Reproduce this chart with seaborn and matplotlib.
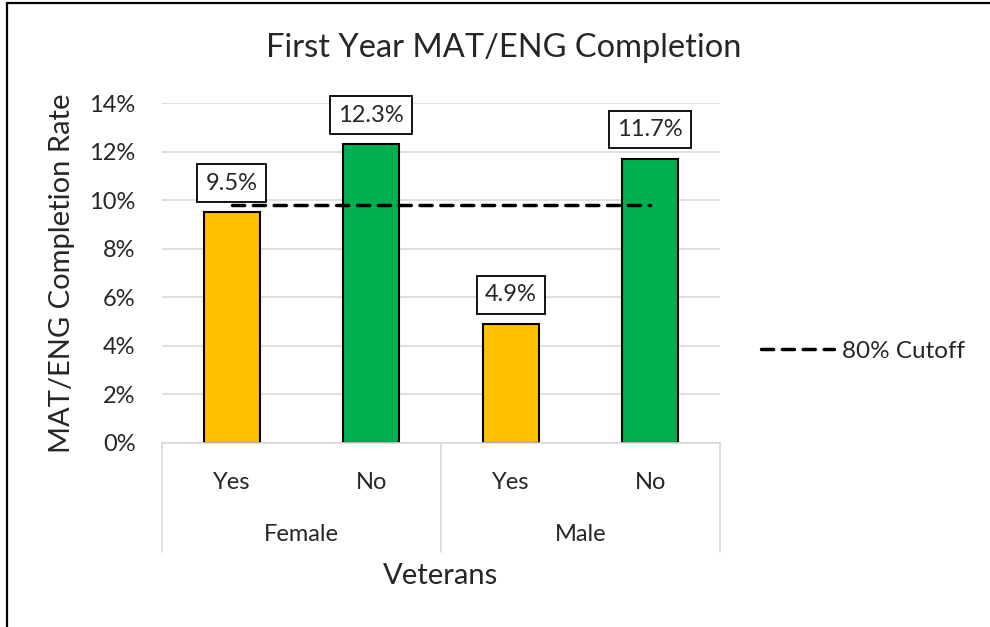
import seaborn as sns
import matplotlib.pyplot as plt
from matplotlib.lines import Line2D
from matplotlib.ticker import PercentFormatter
import pandas as pd

# Chart data
genders = ["Female", "Female", "Male", "Male"]
veteran = ["Yes", "No", "Yes", "No"]
rates = [0.095, 0.123, 0.049, 0.117]
cutoff = 0.098
group_names = ["Female", "Male"]

df = pd.DataFrame({"gender": genders, "veteran": veteran, "rate": rates})
df["key"] = df["gender"] + "-" + df["veteran"]

sns.set_style("white")
plt.rcParams["font.family"] = ["Lato", "DejaVu Sans"]

fig = plt.figure(figsize=(9.9, 6.27), dpi=100)
ax = fig.add_axes([0.1636, 0.2935, 0.5637, 0.5422])

sns.barplot(
    data=df, x="key", y="rate", hue="veteran",
    palette={"Yes": "#FFC000", "No": "#00B050"}, saturation=1,
    dodge=False, width=0.4, edgecolor="black", linewidth=1.5,
    legend=False, ax=ax,
)

dash = (0, (3.5, 2.5))
# cutoff line between first and last bar centers
ax.plot([0, len(rates) - 1], [cutoff, cutoff], color="black", lw=2.5,
        linestyle=dash, dash_capstyle="round", zorder=4)

ax.set_xlim(-0.5, len(rates) - 0.5)
ax.set_ylim(0, 0.14)
ax.set_yticks([i / 100 for i in range(0, 15, 2)])
ax.yaxis.set_major_formatter(PercentFormatter(1.0, decimals=0))
ax.yaxis.grid(True, color="#d9d9d9", lw=1.2)
ax.set_axisbelow(True)
for s in ["top", "right", "left"]:
    ax.spines[s].set_visible(False)
ax.spines["bottom"].set_color("#d9d9d9")
ax.spines["bottom"].set_linewidth(1.2)
ax.tick_params(axis="y", length=0, labelsize=17, pad=19)
ax.set_xticks(range(len(rates)))
ax.set_xticklabels(veteran)
ax.tick_params(axis="x", length=0, labelsize=17, pad=21)
ax.set_xlabel("")
ax.set_ylabel("MAT/ENG Completion Rate", fontsize=21, labelpad=10)

# data labels in boxes
for i, v in enumerate(rates):
    ax.annotate(f"{v*100:.1f}%", (i, v), xytext=(0, 21), textcoords="offset points",
                ha="center", va="center", fontsize=17,
                bbox=dict(boxstyle="square,pad=0.35", fc="white", ec="black", lw=1.3),
                zorder=5)

# multi-level category axis
trans = ax.get_xaxis_transform()
for xs in [-0.5, 1.5, 3.5]:
    ax.plot([xs, xs], [0, -0.32], transform=trans, color="#d9d9d9", lw=1.2, clip_on=False)
for j, g in enumerate(group_names):
    ax.text(2 * j + 0.5, -0.268, g, transform=trans, ha="center", va="center", fontsize=17)
ax.text(1.5, -0.39, "Veterans", transform=trans, ha="center", va="center", fontsize=21)

fig.text(0.5086, 0.923, "First Year MAT/ENG Completion", ha="center", va="center", fontsize=23.5)

handle = Line2D([], [], color="black", lw=2.5, linestyle=dash, dash_capstyle="round")
fig.legend([handle], ["80% Cutoff"], loc="center left", bbox_to_anchor=(0.7465, 0.44),
           frameon=False, fontsize=17.5, handlelength=3.0, handletextpad=0.34)

# chart border (top and left edges visible)
fig.add_artist(Line2D([0.0071, 0.0071], [0, 0.995], transform=fig.transFigure, color="black", lw=1.6))
fig.add_artist(Line2D([0.0071, 1], [0.995, 0.995], transform=fig.transFigure, color="black", lw=1.6))

fig.savefig("out.png", dpi=100)
plt.close(fig)
